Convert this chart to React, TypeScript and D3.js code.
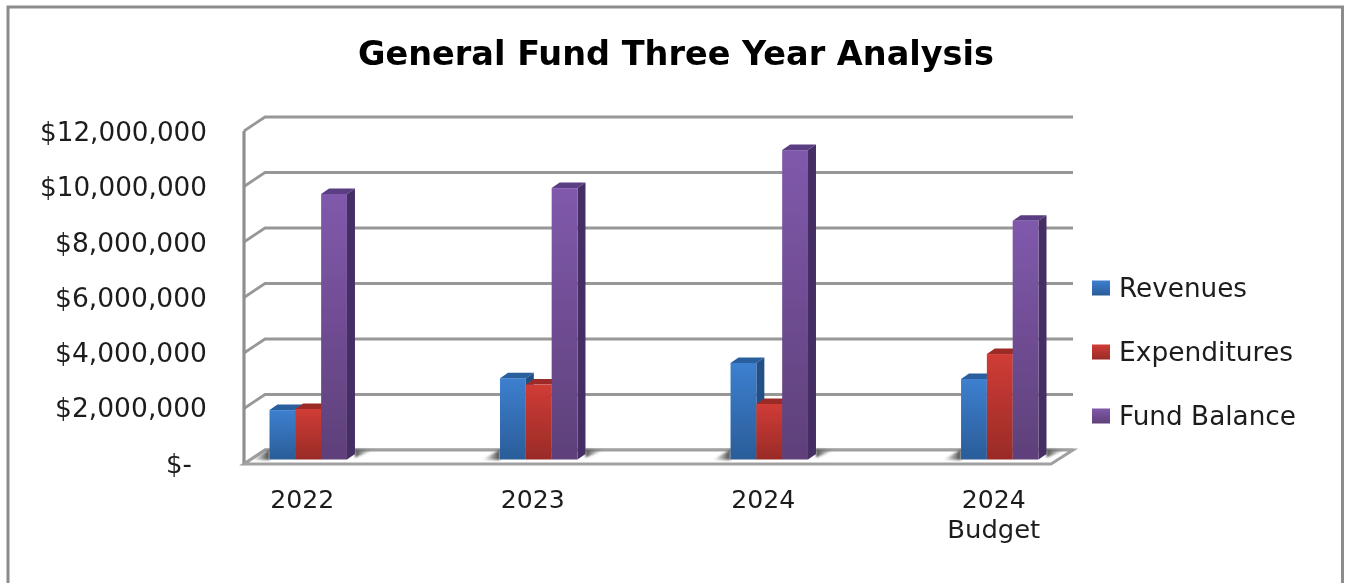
import React from "react";
import * as d3 from "d3";

const categories = ["2022", "2023", "2024", "2024 Budget"];
const seriesNames = ["Revenues", "Expenditures", "Fund Balance"];
const legendWidths = [128, 174, 177];
const revenues = [1780000, 2930000, 3480000, 2900000];
const expenditures = [1820000, 2700000, 2000000, 3800000];
const fundBalance = [9570000, 9780000, 11150000, 8600000];
const tickValues = [0, 2000000, 4000000, 6000000, 8000000, 10000000, 12000000];
const tickLabels = ["$-", "$2,000,000", "$4,000,000", "$6,000,000", "$8,000,000", "$10,000,000", "$12,000,000"];
const colors = [
  { top: "#2a5f9e", light: "#3d7fcf", dark: "#2a5d99", side: "#234f85" },
  { top: "#9c2a28", light: "#d03c36", dark: "#992b27", side: "#7f2321" },
  { top: "#5a3c82", light: "#8059ac", dark: "#5e4079", side: "#452e63" },
];

const FONT = "'DejaVu Sans', Verdana, sans-serif";
const TEXT = "#1c1c1c";

const frontX = 244, backX = 265, rightBack = 1073, rightFront = 1051;
const depthDy = 14;
const yBack = d3.scaleLinear().domain([0, 12000000]).range([450, 117]);
const yBar = d3.scaleLinear().domain([0, 12000000]).range([459.5, 126.5]);
const yLabel = d3.scaleLinear().domain([0, 12000000]).range([472.5, 141]);
const x0 = d3.scaleBand<string>().domain(categories).range([269.5, 1038.5]).paddingInner(0.664).paddingOuter(0);
const x1 = d3.scaleBand<string>().domain(seriesNames).range([0, x0.bandwidth()]);
const seriesValues = [revenues, expenditures, fundBalance];
const dx = 8, dy = 5.5;

export default function App() {
  const lineGen = d3.line();
  return (
    <svg width={1347} height={583} style={{ position: "absolute", left: 0, top: 0, background: "#fff" }}>
      <defs>
        <filter id="soft" x="-5%" y="-5%" width="110%" height="110%"><feGaussianBlur stdDeviation="0.55" /></filter>
        <filter id="softText" x="-5%" y="-20%" width="110%" height="140%"><feGaussianBlur stdDeviation="0.4" /></filter>
        <filter id="shadow" x="-30%" y="-30%" width="160%" height="160%"><feGaussianBlur stdDeviation="1" /></filter>
        {colors.map((c, i) => (
          <linearGradient key={i} id={`g${i}`} x1="0" y1="0" x2="0" y2="1">
            <stop offset="0" stopColor={c.light} />
            <stop offset="1" stopColor={c.dark} />
          </linearGradient>
        ))}
        <linearGradient id="shadowL" x1="0" y1="0" x2="1" y2="0">
          <stop offset="0" stopColor="#777" stopOpacity="0" />
          <stop offset="1" stopColor="#444" stopOpacity="1" />
        </linearGradient>
        <linearGradient id="shadowR" x1="0" y1="0" x2="1" y2="0">
          <stop offset="0" stopColor="#444" stopOpacity="0.95" />
          <stop offset="1" stopColor="#888" stopOpacity="0" />
        </linearGradient>
      </defs>
      <rect x={8} y={7} width={1334.5} height={600} fill="#fff" stroke="#8c8c8c" strokeWidth={3} />
      <g filter="url(#soft)">
        {tickValues.map((v) => {
          const yb = yBack(v);
          const pts: [number, number][] = [[frontX, yb + depthDy], [backX, yb], [rightBack, yb]];
          return <path key={v} d={lineGen(pts) || ""} fill="none" stroke="#979797" strokeWidth={2.8} />;
        })}
        <line x1={frontX} x2={frontX} y1={yBack(12000000) + depthDy} y2={yBack(0) + depthDy} stroke="#8f8f8f" strokeWidth={3.2} />
        <path
          d={`M${frontX},${yBack(0) + depthDy}L${rightFront},${yBack(0) + depthDy}L${rightBack},${yBack(0)}L${backX},${yBack(0)}Z`}
          fill="#fff" stroke="#a0a0a0" strokeWidth={3}
        />
        {categories.map((cat) => {
          const gx = x0(cat)!;
          const base = yBar(0);
          const gr = gx + x0.bandwidth() + dx;
          return (
            <g key={cat}>
              <path d={`M${gx - 18},${base + 0.5}L${gx},${base - 10}L${gx},${base + 0.5}Z`} fill="url(#shadowL)" filter="url(#shadow)" />
              <path d={`M${gr},${base - 10}L${gr + 20},${base - 10}L${gr},${base - 2}Z`} fill="url(#shadowR)" filter="url(#shadow)" />
              {seriesNames.map((s, i) => {
                const v = seriesValues[i][categories.indexOf(cat)];
                const left = gx + x1(s)!;
                const w = x1.bandwidth();
                const top = yBar(v);
                const c = colors[i];
                return (
                  <g key={s}>
                    <path d={`M${left},${top}L${left + dx},${top - dy}L${left + w + dx},${top - dy}L${left + w},${top}Z`} fill={c.top} />
                    <path d={`M${left + w},${top}L${left + w + dx},${top - dy}L${left + w + dx},${base - dy}L${left + w},${base}Z`} fill={c.side} />
                  </g>
                );
              })}
              {seriesNames.map((s, i) => {
                const v = seriesValues[i][categories.indexOf(cat)];
                return <rect key={s} x={gx + x1(s)!} y={yBar(v)} width={x1.bandwidth()} height={base - yBar(v)} fill={`url(#g${i})`} />;
              })}
            </g>
          );
        })}
        {seriesNames.map((s, i) => (
          <rect key={s} x={1092} y={280.5 + i * 64} width={18} height={15} fill={`url(#g${i})`} />
        ))}
      </g>
      <g filter="url(#softText)" fontFamily={FONT} fill={TEXT}>
        <text x={676} y={65} textAnchor="middle" fontSize={33} fontWeight={700} fill="#050505" textLength={636} lengthAdjust="spacingAndGlyphs">General Fund Three Year Analysis</text>
        {tickValues.map((v, i) => (
          i === 0
            ? <text key={v} x={192} y={yLabel(v)} textAnchor="end" fontSize={26}>{tickLabels[i]}</text>
            : <text key={v} x={207} y={yLabel(v)} textAnchor="end" fontSize={26} textLength={i >= 5 ? 167 : 152} lengthAdjust="spacingAndGlyphs">{tickLabels[i]}</text>
        ))}
        {categories.map((cat) => {
          const cx = x0(cat)! + x0.bandwidth() / 2 - 6;
          const parts = cat.split(" ");
          return (
            <g key={cat}>
              {parts.map((p, i) => (
                <text key={p} x={cx} y={508 + i * 29.5} textAnchor="middle" fontSize={25} textLength={i === 0 ? 64 : 93} lengthAdjust="spacingAndGlyphs">{p}</text>
              ))}
            </g>
          );
        })}
        {seriesNames.map((s, i) => (
          <text key={s} x={1119} y={296.5 + i * 64} fontSize={26} textLength={legendWidths[i]} lengthAdjust="spacingAndGlyphs">{s}</text>
        ))}
      </g>
    </svg>
  );
}
